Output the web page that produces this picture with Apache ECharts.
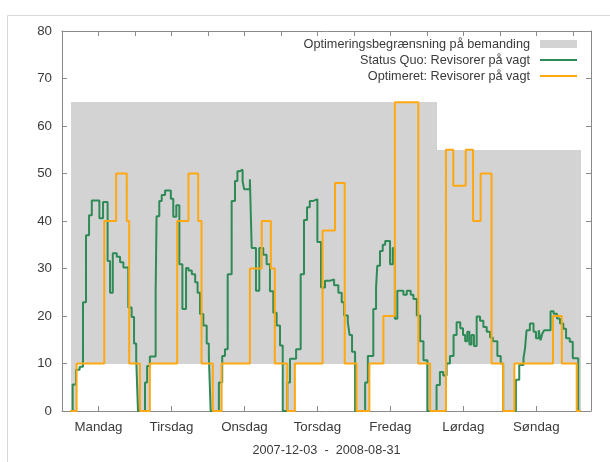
<!DOCTYPE html>
<html><head><meta charset="utf-8">
<script src="https://cdn.jsdelivr.net/npm/echarts@6/dist/echarts.min.js"></script>
<style>html,body{margin:0;padding:0;background:#fff}#c{width:610px;height:462px}</style>
</head><body><div id="c"></div>
<script>
// ---- labels ----
const dayNames = ['Mandag', 'Tirsdag', 'Onsdag', 'Torsdag', 'Fredag', 'Lørdag', 'Søndag'];
const dayTickHours = [12, 36, 60, 84, 108, 132, 156];
const xTitle = '2007-12-03  -  2008-08-31';
const bandName = 'Optimeringsbegrænsning på bemanding';
const greenName = 'Status Quo: Revisorer på vagt';
const orangeName = 'Optimeret: Revisorer på vagt';

// ---- constraint band (hours from Monday 00:00) ----
const bandX = [2.8, 4.8, 24.7, 29.0, 48.6, 52.5, 72.5, 76.6, 96.4, 101.1, 119.8, 123.2, 126.3, 144.8, 149.0, 169.3, 170.8];
const bandLow = [0, 10, 0, 10, 0, 10, 0, 10, 0, 10, 0, 0, 10, 0, 10, 0];
const bandHigh = [65, 65, 65, 65, 65, 65, 65, 65, 65, 65, 65, 55, 55, 55, 55, 55];

// ---- Status Quo (green), [hour, value] change points ----
const greenMandag = [[2.8,0],[3.5,5.6],[4.6,8.7],[5.8,9.3],[6.9,22.9],[7.9,37],[8.9,41.2],[9.8,44.3],[12.3,40.6],[13.5,44],[15.0,31.6],[15.8,24.9],[16.7,33.2],[18.0,32.5],[19.1,31.3],[20.2,30.2],[21.8,21.8],[22.9,19.8],[23.7,14.2],[24.4,11],[25.0,0]];
const greenTirsdag = [[27.3,6.0],[28.0,9.5],[28.9,11.5],[30.8,25],[31.1,41],[32.0,44.2],[32.8,45.5],[33.9,46.4],[35.8,44.7],[36.6,40.9],[37.6,43.3],[38.6,30.9],[39.6,21.5],[40.8,30.1],[41.6,29.6],[42.7,28.8],[43.8,27.1],[44.6,24.9],[45.4,20.4],[46.5,18],[47.6,14.2],[48.3,11.5],[48.9,0]];
const greenOnsdag = [[51.6,6.0],[52.7,11.6],[53.6,13],[54.5,28.8],[55.8,44.2],[56.9,48.4],[57.7,50.5],[58.5,50.8],[59.4,48.4],[59.9,46.7],[61.8,48.8],[62.4,34.3],[63.8,25.3],[64.9,34.3],[66.2,32.9],[67.3,30.9],[68.4,25.2],[69.5,20.7],[70.6,18],[71.7,13.8],[72.6,0]];
const greenTorsdag = [[74.1,6],[75.0,11],[77.0,13],[78.5,28.8],[79.6,40.2],[80.6,42.9],[81.5,44.2],[82.5,44.6],[84.0,35.6],[85.2,26],[86.5,27.4],[88.0,27.7],[89.5,26.5],[90.9,24.9],[92.0,22.9],[92.8,20.1],[94.0,18.7],[94.6,16],[95.4,12.5],[96.4,0]];
const greenFredag = [[99.7,6],[100.6,11.6],[102.4,21.5],[103.3,26],[103.7,30.6],[104.6,33.7],[105.5,35],[106.3,35.8],[107.9,30.9],[108.8,34.3],[109.5,19.4],[110.3,25.3],[112.3,24.5],[113.4,25.3],[114.7,24.5],[115.6,23.6],[116.7,20.1],[117.8,14.7],[118.9,10.7],[120.2,0]];
const greenLoerdag = [[123.2,5.5],[124.3,8.2],[125.4,7.5],[126.5,10],[127.6,11.6],[128.8,16],[129.8,18.7],[131.0,17.4],[131.9,16],[132.6,14.7],[133.3,16.7],[134.0,14],[134.7,16],[135.5,13.7],[136.4,19.9],[137.5,19],[138.6,17.7],[139.7,16.7],[140.8,15.5],[141.7,14.7],[143.2,11.6],[144.3,10],[145.1,0]];
const greenSoendag = [[149.3,6.6],[150.4,9.7],[151.8,11.1],[152.3,13.2],[152.8,17],[153.9,18.4],[155.1,16.7],[155.9,15.3],[156.8,17],[157.4,14.9],[158.0,16.3],[158.6,17],[160.7,21],[161.7,20.5],[162.8,19.5],[163.8,18.4],[164.9,17.3],[165.8,15.3],[167.0,14.6],[168.0,11.1],[169.8,0],[170.6,0]];

// ---- Optimeret (orange), [hour, value] change points ----
const orangeMandag = [[2.8,0],[4.8,10],[13.9,40],[17.8,50],[21.3,40],[22.1,10],[25.65,0]];
const orangeTirsdag = [[28.9,10],[37.9,40],[41.6,50],[44.8,40],[45.9,10],[49.6,0]];
const orangeOnsdag = [[52.5,10],[61.8,30],[65.7,40],[68.7,30],[70.0,10],[74.1,0]];
const orangeTorsdag = [[76.6,10],[85.7,38],[89.8,48],[93.0,10],[96.9,0]];
const orangeFredag = [[101.1,10],[105.7,20],[109.5,65],[117.2,10],[121.1,0]];
const orangeLoerdag = [[126.3,55],[128.7,47.4],[132.8,55],[135.2,40],[137.7,50],[141.3,10],[145.1,0]];
const orangeSoendag = [[148.8,10],[161.5,20],[164.4,10],[169.3,0],[170.6,0]];

// ---- build ----
const greenData = [].concat(greenMandag, greenTirsdag, greenOnsdag, greenTorsdag, greenFredag, greenLoerdag, greenSoendag);
const orangeData = [].concat(orangeMandag, orangeTirsdag, orangeOnsdag, orangeTorsdag, orangeFredag, orangeLoerdag, orangeSoendag);
const bandData = [];
for (let i = 0; i < bandX.length - 1; i++) bandData.push([bandX[i], bandX[i + 1], bandLow[i], bandHigh[i]]);

const FONT = 'Liberation Sans';
const TXT = '#3a3a3a';
const AX = '#8a8a8a';

const chart = echarts.init(document.getElementById('c'), null, {renderer: 'canvas'});
chart.setOption({
  animation: false,
  backgroundColor: '#ffffff',
  textStyle: {fontFamily: FONT},
  graphic: [{
    type: 'rect', silent: true, z: -10,
    shape: {x: 7.5, y: 15.5, width: 700, height: 600},
    style: {fill: 'none', stroke: '#d9d9d9', lineWidth: 1}
  }],
  grid: {left: 62, right: 19, top: 31, bottom: 45, containLabel: false},
  legend: {
    orient: 'vertical', right: 28, top: 32, align: 'right',
    itemWidth: 37, itemHeight: 8, itemGap: 2,
    textStyle: {fontFamily: FONT, fontSize: 12.7, color: TXT, lineHeight: 14, padding: [0, 5, 0, 0]},
    data: [
      {name: bandName, icon: 'rect'},
      {name: greenName, icon: 'path://M0 0H40V2.4H0Z'},
      {name: orangeName, icon: 'path://M0 0H40V2.4H0Z'}
    ]
  },
  xAxis: [{
    type: 'value', min: 0, max: 174, position: 'bottom',
    name: xTitle, nameLocation: 'middle', nameGap: 33,
    nameTextStyle: {fontFamily: FONT, fontSize: 12.7, color: TXT},
    axisLine: {show: true, onZero: false, lineStyle: {color: AX, width: 1}},
    axisTick: {show: true, inside: true, length: 5, customValues: dayTickHours, lineStyle: {color: AX}},
    axisLabel: {show: true, customValues: dayTickHours, margin: 10, fontFamily: FONT, fontSize: 13.3, color: TXT,
      formatter: v => dayNames[Math.round((v - 12) / 24)] || ''},
    splitLine: {show: false}
  }, {
    type: 'value', min: 0, max: 174, interval: 12, position: 'top',
    axisLine: {show: true, onZero: false, lineStyle: {color: AX, width: 1}},
    axisTick: {show: true, inside: true, length: 5, lineStyle: {color: AX}},
    axisLabel: {show: false}, splitLine: {show: false}
  }],
  yAxis: [{
    type: 'value', min: 0, max: 80, interval: 10, position: 'left',
    axisLine: {show: true, onZero: false, lineStyle: {color: AX, width: 1}},
    axisTick: {show: true, inside: true, length: 5, lineStyle: {color: AX}},
    axisLabel: {margin: 10, fontFamily: FONT, fontSize: 13.3, color: TXT},
    splitLine: {show: false}
  }, {
    type: 'value', min: 0, max: 80, interval: 10, position: 'right',
    axisLine: {show: true, onZero: false, lineStyle: {color: AX, width: 1}},
    axisTick: {show: true, inside: true, length: 5, lineStyle: {color: AX}},
    axisLabel: {show: false}, splitLine: {show: false}
  }],
  series: [{
    name: bandName, type: 'custom', xAxisIndex: 0, yAxisIndex: 0,
    itemStyle: {color: '#d3d3d3'},
    encode: {x: [0, 1], y: [2, 3]},
    data: bandData,
    renderItem: function (params, api) {
      const a = api.coord([api.value(0), api.value(3)]);
      const b = api.coord([api.value(1), api.value(2)]);
      const x0 = Math.round(a[0]), x1 = Math.round(b[0]);
      return {type: 'rect', shape: {x: x0, y: Math.round(a[1]), width: x1 - x0, height: Math.round(b[1]) - Math.round(a[1])},
        style: {fill: '#d3d3d3'}};
    }
  }, {
    name: greenName, type: 'line', step: 'end', showSymbol: false, symbol: 'none',
    color: '#2e8b57', lineStyle: {color: '#2e8b57', width: 2},
    data: greenData, z: 3
  }, {
    name: orangeName, type: 'line', step: 'end', showSymbol: false, symbol: 'none',
    color: '#ffa812', lineStyle: {color: '#ffa812', width: 2},
    data: orangeData, z: 4
  }]
});
</script></body></html>
